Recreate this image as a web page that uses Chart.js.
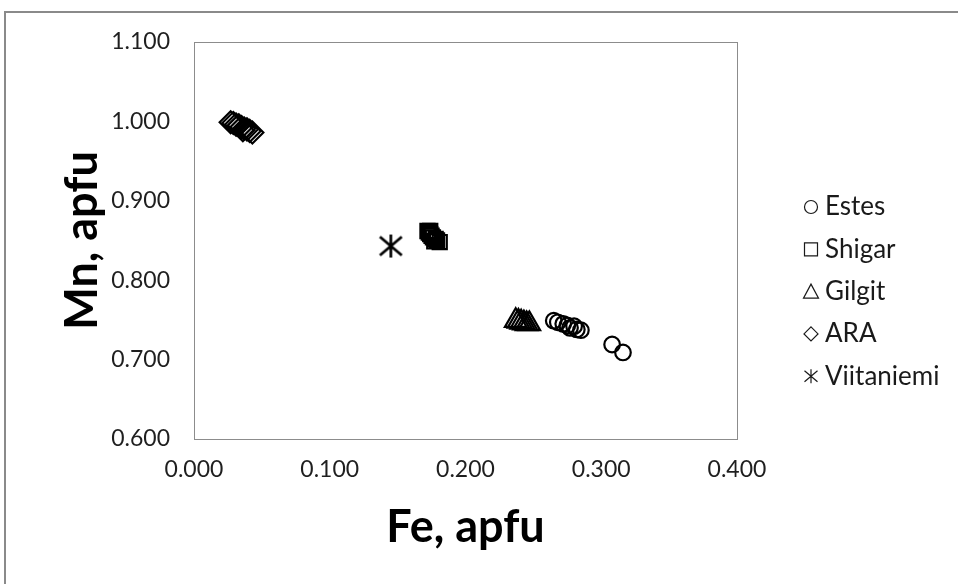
<!DOCTYPE html>
<html>
<head>
<meta charset="utf-8">
<script src="https://cdn.jsdelivr.net/npm/chart.js@4.4.1/dist/chart.umd.min.js"></script>
<style>
  html, body { margin: 0; padding: 0; background: #fff; }
  #wrap { width: 958px; height: 584px; position: relative; }
</style>
</head>
<body>
<div id="wrap"><canvas id="chart" width="958" height="584"></canvas></div>
<script>
// Data
const seriesNames = ["Estes", "Shigar", "Gilgit", "ARA", "Viitaniemi"];

const estesFe = [0.265, 0.268, 0.272, 0.275, 0.277, 0.280, 0.282, 0.285, 0.308, 0.316];
const estesMn = [0.749, 0.747, 0.745, 0.743, 0.740, 0.742, 0.738, 0.737, 0.719, 0.709];

const shigarFe = [0.172, 0.173, 0.174, 0.175, 0.176, 0.178, 0.179, 0.181, 0.174, 0.177];
const shigarMn = [0.862, 0.860, 0.858, 0.856, 0.854, 0.852, 0.850, 0.848, 0.862, 0.849];

const gilgitFe = [0.237, 0.239, 0.241, 0.243, 0.245, 0.247];
const gilgitMn = [0.749, 0.748, 0.747, 0.746, 0.745, 0.745];

const araFe = [0.027, 0.029, 0.031, 0.033, 0.035, 0.037, 0.039, 0.041, 0.043, 0.036];
const araMn = [0.999, 0.998, 0.996, 0.995, 0.993, 0.991, 0.990, 0.988, 0.986, 0.989];

const viitFe = [0.145];
const viitMn = [0.843];

const xTicks = [0.000, 0.100, 0.200, 0.300, 0.400];
const yTicks = [0.600, 0.700, 0.800, 0.900, 1.000, 1.100];

const xTitle = "Fe, apfu";
const yTitle = "Mn, apfu";

// helpers
const pts = (xs, ys) => xs.map((x, i) => ({ x: x, y: ys[i] }));

// asterisk marker (vertical bar + X) as a small canvas
function makeAsterisk(size, lw) {
  const c = document.createElement("canvas");
  c.width = size; c.height = size;
  const g = c.getContext("2d");
  g.strokeStyle = "#000"; g.lineWidth = lw; g.lineCap = "butt";
  const m = size / 2, h = size / 2 - 1;
  g.beginPath();
  g.moveTo(m, m - h); g.lineTo(m, m + h);
  g.moveTo(m - h * 0.95, m - h * 0.8); g.lineTo(m + h * 0.95, m + h * 0.8);
  g.moveTo(m - h * 0.95, m + h * 0.8); g.lineTo(m + h * 0.95, m - h * 0.8);
  g.stroke();
  return c;
}
const asteriskBig = makeAsterisk(25, 2.7);

// Plugins
const framePlugin = {
  id: "frame",
  beforeDraw(chart) {
    const ctx = chart.ctx;
    ctx.save();
    ctx.fillStyle = "#fff";
    ctx.fillRect(0, 0, chart.width, chart.height);
    ctx.strokeStyle = "#8a8a8a";
    ctx.lineWidth = 2;
    ctx.beginPath();
    ctx.moveTo(5, chart.height);
    ctx.lineTo(5, 12);
    ctx.lineTo(chart.width, 12);
    ctx.stroke();
    ctx.restore();
  },
  beforeDatasetsDraw(chart) {
    const a = chart.chartArea, ctx = chart.ctx;
    ctx.save();
    ctx.strokeStyle = "#8c8c8c";
    ctx.lineWidth = 1;
    ctx.strokeRect(Math.round(a.left) + 0.5, Math.round(a.top) + 0.5,
      Math.round(a.right - a.left), Math.round(a.bottom - a.top));
    ctx.restore();
  }
};

const sideLegend = {
  id: "sideLegend",
  afterDraw(chart) {
    const ctx = chart.ctx;
    const mx = 811, tx = 825, y0 = 207, step = 42.3;
    ctx.save();
    ctx.font = "26px Lato";
    ctx.textBaseline = "middle";
    ctx.fillStyle = "#1a1a1a";
    ctx.strokeStyle = "#1a1a1a";
    ctx.lineWidth = 1.2;
    chart.data.datasets.forEach((ds, i) => {
      const y = y0 + i * step;
      ctx.beginPath();
      if (ds.pointStyle === "circle") {
        ctx.arc(mx, y, 6.5, 0, Math.PI * 2);
      } else if (ds.pointStyle === "rect") {
        ctx.rect(mx - 6.5, y - 6.5, 13, 13);
      } else if (ds.pointStyle === "triangle") {
        ctx.moveTo(mx, y - 7.5); ctx.lineTo(mx + 7.5, y + 6.5); ctx.lineTo(mx - 7.5, y + 6.5); ctx.closePath();
      } else if (ds.pointStyle === "rectRot") {
        ctx.moveTo(mx, y - 7); ctx.lineTo(mx + 7, y); ctx.lineTo(mx, y + 7); ctx.lineTo(mx - 7, y); ctx.closePath();
      } else {
        ctx.moveTo(mx, y - 7); ctx.lineTo(mx, y + 7);
        ctx.moveTo(mx - 6.5, y - 5.5); ctx.lineTo(mx + 6.5, y + 5.5);
        ctx.moveTo(mx - 6.5, y + 5.5); ctx.lineTo(mx + 6.5, y - 5.5);
      }
      ctx.stroke();
      ctx.fillText(ds.label, tx, y);
    });
    ctx.restore();
  }
};

const common = { backgroundColor: "rgba(0,0,0,0)", borderColor: "#000", borderWidth: 2.2, pointHoverRadius: 0 };

new Chart(document.getElementById("chart"), {
  type: "scatter",
  data: {
    datasets: [
      Object.assign({ label: seriesNames[0], data: pts(estesFe, estesMn), pointStyle: "circle", pointRadius: 7.8 }, common),
      Object.assign({ label: seriesNames[1], data: pts(shigarFe, shigarMn), pointStyle: "rect", pointRadius: 10 }, common),
      Object.assign({ label: seriesNames[2], data: pts(gilgitFe, gilgitMn), pointStyle: "triangle", pointRadius: 12.5 }, common),
      Object.assign({ label: seriesNames[3], data: pts(araFe, araMn), pointStyle: "rectRot", pointRadius: 11 }, common),
      Object.assign({ label: seriesNames[4], data: pts(viitFe, viitMn), pointStyle: asteriskBig, pointRadius: 12 }, common)
    ]
  },
  options: {
    responsive: false,
    animation: false,
    events: [],
    layout: { padding: { left: 0, top: 42, right: 221, bottom: 0 } },
    plugins: { legend: { display: false }, tooltip: { enabled: false } },
    scales: {
      x: {
        type: "linear",
        min: 0, max: 0.4,
        afterBuildTicks: s => { s.ticks = xTicks.map(v => ({ value: v })); },
        afterFit: s => { s.height = 584 - 439; },
        grid: { display: false, drawTicks: false },
        border: { display: false },
        ticks: { padding: 17, color: "#1f1f1f", font: { family: "Lato", size: 23 }, callback: v => v.toFixed(3) },
        title: { display: true, text: xTitle, color: "#000", font: { family: "Lato", size: 45, weight: "bold" }, padding: { top: 0, bottom: 30 } }
      },
      y: {
        type: "linear",
        min: 0.6, max: 1.1,
        afterBuildTicks: s => { s.ticks = yTicks.map(v => ({ value: v })); },
        afterFit: s => { s.width = 194; },
        grid: { display: false, drawTicks: false },
        border: { display: false },
        ticks: { padding: 24, color: "#1f1f1f", font: { family: "Lato", size: 23 }, callback: v => v.toFixed(3) },
        title: { display: true, text: yTitle, color: "#000", font: { family: "Lato", size: 45, weight: "bold" }, padding: { top: 55, bottom: 0 } }
      }
    }
  },
  plugins: [framePlugin, sideLegend]
});
</script>
</body>
</html>
